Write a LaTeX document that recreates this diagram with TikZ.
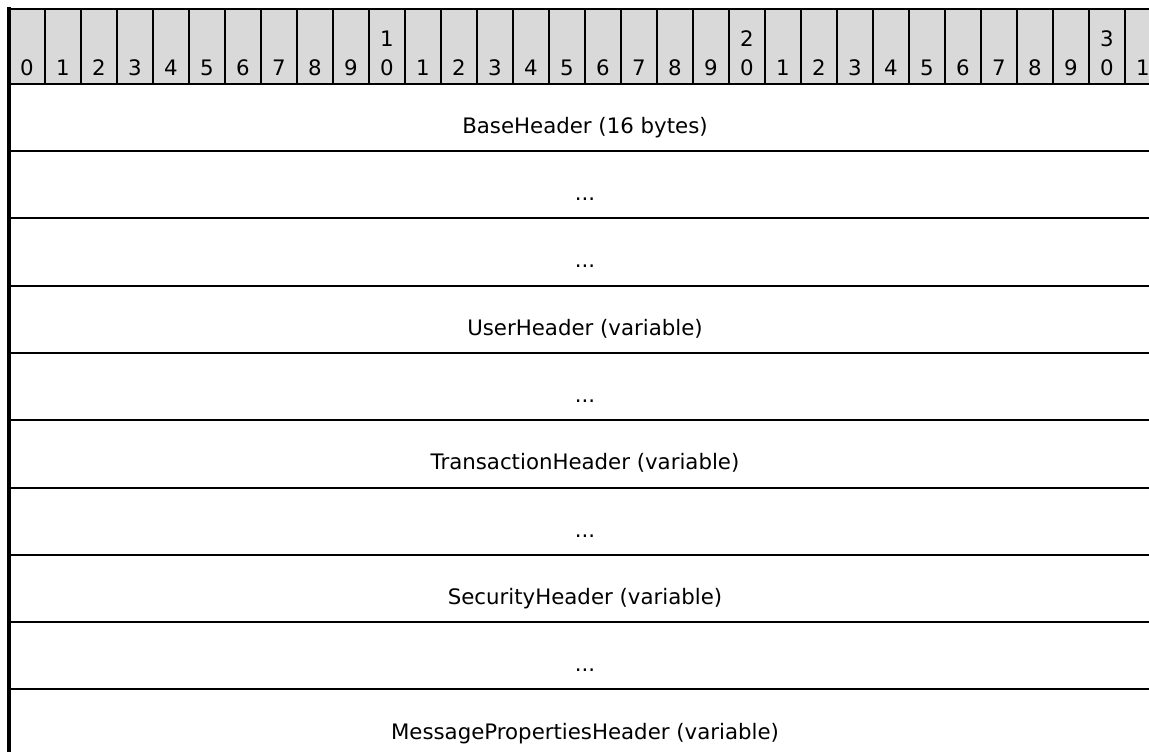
\documentclass[tikz,border=0pt]{standalone}
\usepackage{fontspec}
\setmainfont{DejaVu Sans}
\definecolor{hdrgray}{RGB}{217,217,217}
\tikzset{
  rowlabel/.style={anchor=base, inner sep=0pt, font=\fontsize{21.3}{25}\selectfont},
  bitlabel/.style={anchor=base, inner sep=0pt, font=\fontsize{21.3}{25}\selectfont},
  rowline/.style={line width=2.9pt},
  colline/.style={line width=2.2pt},
  edgeline/.style={line width=3.2pt}
}
\begin{document}
\begin{tikzpicture}[x=1pt,y=-1pt]
\useasboundingbox (0,0) rectangle (1149,752);
\clip (0,0) rectangle (1149,752);
% header background
\fill[hdrgray] (9,9) rectangle (1161,84);
% header column separators
\foreach \i in {1,...,32} {
  \draw[colline] ({9+36*\i},9) -- ({9+36*\i},84);
}
% bit numbers
\foreach \i in {0,...,31} {
  \pgfmathtruncatemacro{\ones}{mod(\i,10)}
  \node[bitlabel] (bit\i) at ({27+36*\i},75.5) {\ones};
}
\node[bitlabel] (ten1) at ({27+36*10},46.5) {1};
\node[bitlabel] (ten2) at ({27+36*20},46.5) {2};
\node[bitlabel] (ten3) at ({27+36*30},46.5) {3};
% top line and header bottom
\draw[rowline] (9,9) -- (1161,9);
\draw[rowline] (9,84) -- (1161,84);
% row lines
\foreach \y in {151,218,286,353,420,488,555,622,689} {
  \draw[rowline] (9,\y) -- (1161,\y);
}
% left edge
\draw[edgeline] (9,7.5) -- (9,760);
% row labels
\node[rowlabel] (base) at (585,133) {BaseHeader (16 bytes)};
\node[rowlabel] (dotsA) at (585,200) {...};
\node[rowlabel] (dotsB) at (585,267) {...};
\node[rowlabel] (user) at (585,335) {UserHeader (variable)};
\node[rowlabel] (dotsC) at (585,402) {...};
\node[rowlabel] (trans) at (585,469) {TransactionHeader (variable)};
\node[rowlabel] (dotsD) at (585,537) {...};
\node[rowlabel] (sec) at (585,604) {SecurityHeader (variable)};
\node[rowlabel] (dotsE) at (585,671) {...};
\node[rowlabel] (msgprop) at (585,739) {MessagePropertiesHeader (variable)};
\end{tikzpicture}
\end{document}
